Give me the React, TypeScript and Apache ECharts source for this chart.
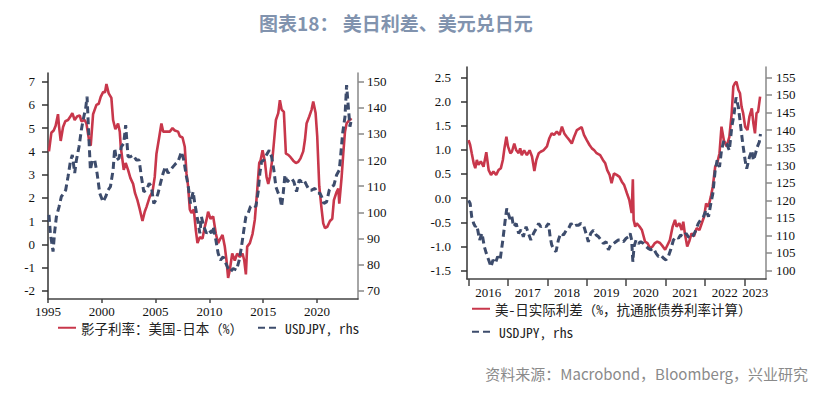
import React, { useEffect, useRef } from 'react';
import * as echarts from 'echarts';

const titleText = '图表18： 美日利差、美元兑日元';
const sourceText = '资料来源：Macrobond，Bloomberg，兴业研究';

const leftRedName = '影子利率：美国-日本（%）';
const blueName = 'USDJPY, rhs';
const rightRedName = '美-日实际利差（%，抗通胀债券利率计算）';

// [decimal year, value]
const shadowRateDiff: [number, number][] = [
  [1995.09, 4.0], [1995.31, 4.8], [1995.53, 4.9], [1995.71, 5.1], [1995.93, 5.6], [1996.02, 5.1],
  [1996.18, 4.45], [1996.4, 5.05], [1996.61, 5.3], [1996.86, 5.35], [1997.08, 5.5], [1997.26, 5.65],
  [1997.48, 5.35], [1997.7, 5.5], [1997.95, 5.55], [1998.1, 5.3], [1998.41, 5.35], [1998.57, 5.2],
  [1998.81, 4.5], [1998.97, 4.25], [1999.19, 5.6], [1999.5, 6.0], [1999.71, 6.05], [1999.9, 6.35],
  [2000.12, 6.55], [2000.3, 6.55], [2000.43, 6.9], [2000.64, 6.5], [2000.89, 6.3], [2001.05, 5.35],
  [2001.26, 4.95], [2001.51, 5.2], [2001.67, 4.85], [2001.76, 4.2], [2002.04, 3.2], [2002.22, 3.5],
  [2002.44, 3.2], [2002.66, 2.85], [2002.91, 2.6], [2003.09, 2.2], [2003.31, 1.9], [2003.53, 1.5],
  [2003.78, 1.0], [2003.99, 1.4], [2004.15, 1.6], [2004.46, 2.05], [2004.71, 2.25], [2004.92, 2.9],
  [2005.08, 3.9], [2005.33, 4.6], [2005.54, 5.2], [2005.7, 4.85], [2006.01, 4.85], [2006.32, 4.85],
  [2006.57, 5.0], [2006.78, 4.9], [2007.09, 4.85], [2007.25, 4.65], [2007.5, 4.6], [2007.71, 4.2],
  [2007.87, 3.05], [2008.02, 2.5], [2008.18, 1.5], [2008.33, 1.35], [2008.55, 1.5], [2008.74, 0.6],
  [2008.89, 0.05], [2009.11, 0.3], [2009.36, 0.25], [2009.57, 0.75], [2009.73, 1.05], [2009.88, 1.4],
  [2010.1, 1.1], [2010.35, 1.2], [2010.6, 0.45], [2010.81, 0.05], [2010.97, 0.2], [2011.22, 0.4],
  [2011.43, -0.1], [2011.59, -0.7], [2011.74, -1.45], [2011.9, -1.1], [2012.12, -0.4], [2012.36, -0.7],
  [2012.58, -0.4], [2012.83, -0.55], [2013.08, -0.4], [2013.24, -0.7], [2013.39, -1.3], [2013.51, -0.1],
  [2013.76, 0.05], [2014.01, 0.45], [2014.22, 1.05], [2014.44, 2.3], [2014.63, 3.5], [2014.75, 3.6],
  [2014.94, 4.05], [2015.16, 3.55], [2015.31, 2.9], [2015.47, 2.6], [2015.62, 2.9], [2015.87, 3.75],
  [2015.99, 4.35], [2016.18, 5.35], [2016.4, 5.65], [2016.55, 6.2], [2016.71, 5.8], [2016.92, 5.7],
  [2017.11, 3.9], [2017.33, 3.85], [2017.54, 3.75], [2017.79, 3.6], [2018.04, 3.5], [2018.26, 3.55],
  [2018.47, 3.7], [2018.72, 4.0], [2018.88, 4.5], [2019.03, 5.2], [2019.28, 5.5], [2019.5, 5.8],
  [2019.65, 6.15], [2019.87, 5.65], [2020.02, 4.65], [2020.21, 2.5], [2020.43, 1.5], [2020.58, 0.9],
  [2020.74, 0.7], [2020.95, 0.75], [2021.2, 1.0], [2021.42, 1.1], [2021.57, 1.9], [2021.82, 2.25],
  [2021.98, 2.4], [2022.07, 1.75], [2022.29, 2.9], [2022.44, 3.9], [2022.6, 4.85], [2022.75, 5.2],
  [2022.91, 5.3], [2023.06, 5.4], [2023.22, 5.35],
];

const usdjpyLong: [number, number][] = [
  [1995.09, 99], [1995.22, 92], [1995.47, 85], [1995.62, 92.6], [1995.78, 98.3], [1996.02, 102],
  [1996.24, 106], [1996.46, 107.3], [1996.64, 108.5], [1996.86, 113.6], [1997.08, 119.4], [1997.26, 122],
  [1997.48, 115], [1997.64, 120], [1997.88, 125], [1998.1, 131.5], [1998.26, 135.3], [1998.5, 139.8],
  [1998.63, 144.3], [1998.81, 127.7], [1998.94, 116.2], [1999.12, 120], [1999.34, 120], [1999.56, 115],
  [1999.81, 107.3], [2000.12, 104], [2000.36, 106], [2000.58, 108.5], [2000.8, 109.8], [2001.05, 116.2],
  [2001.2, 124.5], [2001.36, 120], [2001.6, 120.7], [2001.82, 125.1], [2002.04, 126.4], [2002.22, 133.4],
  [2002.44, 121.3], [2002.66, 121.3], [2002.91, 121.9], [2003.22, 120], [2003.47, 120], [2003.68, 113.6],
  [2003.9, 107.9], [2004.15, 108.5], [2004.4, 111.1], [2004.61, 109.8], [2004.83, 103.4], [2005.02, 104.7],
  [2005.23, 107.3], [2005.45, 111.1], [2005.7, 115], [2005.91, 117.5], [2006.16, 115], [2006.38, 116.2],
  [2006.63, 117.5], [2006.88, 118.7], [2007.09, 119.4], [2007.4, 123.2], [2007.62, 120], [2007.87, 113.6],
  [2008.02, 110.4], [2008.24, 103.4], [2008.49, 107.9], [2008.64, 103.4], [2008.86, 98.3], [2009.11, 92],
  [2009.26, 98.3], [2009.48, 94.5], [2009.73, 92], [2009.98, 93.2], [2010.19, 92], [2010.35, 94.5],
  [2010.6, 89.4], [2010.81, 84.3], [2011.03, 81.7], [2011.28, 83], [2011.53, 80.5], [2011.74, 78.5],
  [2011.96, 77.3], [2012.21, 78.5], [2012.52, 77.9], [2012.77, 81.7], [2012.98, 86.8], [2013.2, 93.2],
  [2013.39, 98.3], [2013.6, 99.6], [2013.82, 102.2], [2014.07, 102.8], [2014.32, 102.2], [2014.53, 107.9],
  [2014.69, 115], [2014.85, 119.4], [2015.06, 120], [2015.31, 122], [2015.56, 123.8], [2015.78, 121.3],
  [2015.99, 116.2], [2016.18, 109.8], [2016.4, 107.3], [2016.55, 106], [2016.71, 102.2], [2016.86, 107.3],
  [2017.02, 114.3], [2017.23, 111.7], [2017.42, 112.4], [2017.64, 113], [2017.85, 111.7], [2018.1, 107.9],
  [2018.35, 112.4], [2018.57, 111.7], [2018.78, 112.4], [2019.03, 110.4], [2019.28, 108.5], [2019.5, 108.5],
  [2019.81, 109.2], [2020.02, 107.3], [2020.27, 107.3], [2020.43, 106], [2020.64, 103.4], [2020.89, 104],
  [2021.14, 108.5], [2021.36, 109.8], [2021.57, 110.4], [2021.82, 114.3], [2022.07, 116.2], [2022.19, 121.3],
  [2022.38, 130.2], [2022.6, 136.6], [2022.75, 148.7], [2022.91, 140.4], [2023.06, 132.8], [2023.22, 136],
];

const realRateDiff: [number, number][] = [
  [2016.0, 1.2], [2016.04, 1.1], [2016.08, 0.93], [2016.13, 0.72], [2016.17, 0.62], [2016.21, 0.79],
  [2016.25, 0.69], [2016.31, 0.76], [2016.38, 0.65], [2016.45, 0.95], [2016.51, 0.58], [2016.57, 0.48],
  [2016.63, 0.55], [2016.7, 0.48], [2016.76, 0.58], [2016.82, 0.62], [2016.87, 0.79], [2016.91, 1.03],
  [2016.96, 1.27], [2017.0, 1.07], [2017.06, 0.93], [2017.1, 0.96], [2017.16, 1.13], [2017.21, 0.99],
  [2017.27, 0.93], [2017.31, 1.03], [2017.35, 0.89], [2017.41, 0.99], [2017.48, 0.89], [2017.55, 0.99],
  [2017.61, 0.86], [2017.67, 0.56], [2017.72, 0.79], [2017.78, 0.93], [2017.83, 0.96], [2017.9, 0.99],
  [2017.99, 1.07], [2018.05, 1.24], [2018.11, 1.34], [2018.17, 1.31], [2018.24, 1.38], [2018.31, 1.31],
  [2018.37, 1.48], [2018.43, 1.34], [2018.49, 1.27], [2018.56, 1.2], [2018.62, 1.13], [2018.68, 1.27],
  [2018.75, 1.41], [2018.81, 1.44], [2018.87, 1.47], [2018.93, 1.31], [2019.0, 1.2], [2019.07, 1.1],
  [2019.13, 1.03], [2019.19, 0.99], [2019.25, 0.93], [2019.34, 0.89], [2019.41, 0.79], [2019.47, 0.72],
  [2019.52, 0.58], [2019.58, 0.48], [2019.63, 0.31], [2019.69, 0.51], [2019.76, 0.48], [2019.83, 0.44],
  [2019.89, 0.34], [2019.95, 0.27], [2020.02, 0.1], [2020.08, -0.04], [2020.14, -0.31], [2020.17, 0.39],
  [2020.19, -0.45], [2020.23, -0.59], [2020.27, -0.52], [2020.34, -0.59], [2020.4, -0.66], [2020.48, -0.9],
  [2020.54, -0.93], [2020.61, -1.04], [2020.67, -1.0], [2020.73, -0.93], [2020.79, -0.9], [2020.86, -0.93],
  [2020.93, -1.0], [2020.99, -1.07], [2021.05, -0.97], [2021.11, -0.87], [2021.18, -0.59], [2021.24, -0.45],
  [2021.28, -0.59], [2021.35, -0.52], [2021.41, -0.66], [2021.45, -0.49], [2021.49, -0.73], [2021.55, -1.0],
  [2021.6, -0.9], [2021.66, -0.73], [2021.72, -0.79], [2021.79, -0.62], [2021.86, -0.66], [2021.92, -0.52],
  [2021.98, -0.38], [2022.03, -0.11], [2022.09, -0.18], [2022.15, 0.03], [2022.2, 0.24], [2022.26, 0.65],
  [2022.31, 0.72], [2022.37, 0.93], [2022.42, 1.48], [2022.48, 1.2], [2022.55, 1.07], [2022.62, 1.27],
  [2022.68, 1.76], [2022.72, 2.31], [2022.76, 2.38], [2022.8, 2.41], [2022.85, 2.24], [2022.89, 2.17],
  [2022.93, 1.89], [2022.97, 1.76], [2023.02, 1.48], [2023.08, 1.41], [2023.13, 1.69], [2023.19, 1.86],
  [2023.23, 1.55], [2023.27, 1.34], [2023.31, 1.76], [2023.35, 1.79], [2023.4, 2.1],
];

const usdjpyShort: [number, number][] = [
  [2016.0, 120], [2016.04, 119.1], [2016.08, 115.3], [2016.13, 113.4], [2016.17, 112.5], [2016.21, 112.9],
  [2016.28, 108.7], [2016.34, 110.6], [2016.4, 106.8], [2016.45, 104.9], [2016.51, 103], [2016.57, 101.1],
  [2016.62, 103], [2016.68, 102.1], [2016.74, 104], [2016.8, 103], [2016.87, 108.7], [2016.93, 114.4],
  [2016.97, 117.7], [2017.01, 116.2], [2017.06, 114.4], [2017.1, 115.3], [2017.14, 112.5], [2017.21, 113.4],
  [2017.27, 110.6], [2017.33, 111.6], [2017.39, 109.6], [2017.46, 112.5], [2017.52, 110.6], [2017.58, 108.7],
  [2017.65, 110.6], [2017.72, 112], [2017.78, 113.4], [2017.83, 112.5], [2017.9, 112.9], [2017.97, 112.5],
  [2018.03, 113.4], [2018.07, 109.6], [2018.11, 107.3], [2018.17, 105.9], [2018.22, 105.4], [2018.28, 108.7],
  [2018.34, 110.6], [2018.41, 110.1], [2018.48, 111.5], [2018.54, 112], [2018.6, 113.4], [2018.66, 112.5],
  [2018.73, 112.9], [2018.79, 112.9], [2018.85, 113.4], [2018.92, 112.9], [2018.98, 110.6], [2019.04, 108.2],
  [2019.1, 110.6], [2019.17, 111.5], [2019.24, 110.1], [2019.3, 109.6], [2019.36, 108.7], [2019.42, 107.7],
  [2019.49, 108.2], [2019.55, 105.9], [2019.61, 107.3], [2019.68, 107.7], [2019.74, 108.2], [2019.8, 108.7],
  [2019.86, 108.7], [2019.93, 108.2], [2020.0, 109.2], [2020.06, 109.6], [2020.1, 110.6], [2020.14, 108.7],
  [2020.17, 102.5], [2020.2, 106.8], [2020.25, 108.7], [2020.31, 107.7], [2020.37, 108.2], [2020.44, 107.7],
  [2020.51, 106.8], [2020.56, 106.3], [2020.62, 105.9], [2020.69, 106.3], [2020.76, 104.9], [2020.82, 104],
  [2020.88, 104.4], [2020.95, 103.5], [2021.01, 103], [2021.07, 104], [2021.13, 105.9], [2021.2, 108.7],
  [2021.27, 109.6], [2021.33, 109.2], [2021.38, 110.1], [2021.45, 109.6], [2021.52, 110.6], [2021.58, 109.6],
  [2021.64, 109.2], [2021.71, 110.1], [2021.77, 111.5], [2021.83, 113.4], [2021.89, 114.4], [2021.96, 115.3],
  [2022.03, 117.2], [2022.09, 115.3], [2022.15, 119.1], [2022.2, 121.9], [2022.26, 128.5], [2022.31, 131.4],
  [2022.37, 129.5], [2022.42, 134.2], [2022.48, 137], [2022.55, 136.1], [2022.62, 134.2], [2022.68, 140.8],
  [2022.74, 144.6], [2022.79, 149.3], [2022.85, 146.5], [2022.91, 140.8], [2022.96, 136.1], [2023.02, 131.4],
  [2023.06, 129], [2023.13, 132.3], [2023.19, 134.2], [2023.23, 131.4], [2023.27, 132.8], [2023.33, 135.2],
  [2023.38, 136.6], [2023.41, 138.9],
];

const leftYTicks = [-2, -1, 0, 1, 2, 3, 4, 5, 6, 7];
const leftY2Ticks = [70, 80, 90, 100, 110, 120, 130, 140, 150];
const leftXTicks = [1995, 2000, 2005, 2010, 2015, 2020];
const rightYTicks = [-1.5, -1, -0.5, 0, 0.5, 1, 1.5, 2, 2.5];
const rightY2Ticks = [100, 105, 110, 115, 120, 125, 130, 135, 140, 145, 150, 155];
const rightXTicks = [2016, 2017, 2018, 2019, 2020, 2021, 2022, 2023];
const rightXLabels = [2016.5, 2017.5, 2018.5, 2019.5, 2020.5, 2021.5, 2022.5, 2023.28];

const RED = '#c8374b';
const BLUE = '#3d4c6c';
const AXIS_FONT = "'Liberation Serif', 'Times New Roman', serif";
const LEGEND_FONT = "'Noto Sans Mono CJK SC', 'Noto Sans CJK SC', sans-serif";

function yAxis(gridIndex: number, position: string, min: number, max: number, ticks: number[], color: string, margin: number, fmt?: (v: number) => string) {
  return {
    type: 'value', gridIndex, position, min, max,
    splitLine: { show: false },
    axisLine: { show: true, onZero: false, lineStyle: { color, width: 1.5 } },
    axisTick: { show: true, inside: false, length: 6, customValues: ticks, lineStyle: { color, width: 1.5 } },
    axisLabel: {
      show: true, customValues: ticks, margin, color: '#111', fontFamily: AXIS_FONT, fontSize: 13,
      formatter: fmt || ((v: number) => String(v)),
    },
  };
}

function legend(left: number, top: number, name: string, width: number) {
  return {
    left, top, padding: 0, itemWidth: width, itemHeight: 14, itemGap: 5, data: [name],
    itemStyle: { opacity: 0 },
    textStyle: { fontFamily: LEGEND_FONT, fontSize: 13.5, color: '#222' },
  };
}

export default function App() {
  const ref = useRef<HTMLDivElement>(null);
  useEffect(() => {
    if (!ref.current) return;
    const chart = echarts.init(ref.current, undefined, { renderer: 'svg' });
    const option: any = {
      animation: false,
      backgroundColor: '#ffffff',
      grid: [
        { left: 48, top: 73, width: 310, height: 226 },
        { left: 467, top: 67, width: 299, height: 212 },
      ],
      xAxis: [
        {
          type: 'value', gridIndex: 0, min: 1995, max: 2023.81,
          splitLine: { show: false },
          axisLine: { show: true, onZero: false, lineStyle: { color: '#444', width: 1.5 } },
          axisTick: { show: true, length: 4, customValues: leftXTicks, lineStyle: { color: '#444', width: 1.5 } },
          axisLabel: { customValues: leftXTicks, margin: 6, color: '#111', fontFamily: AXIS_FONT, fontSize: 13, formatter: (v: number) => String(Math.round(v)) },
        },
        {
          type: 'value', gridIndex: 1, min: 2015.96, max: 2023.55,
          splitLine: { show: false },
          axisLine: { show: true, onZero: false, lineStyle: { color: '#444', width: 1.5 } },
          axisTick: { show: true, length: 7, customValues: rightXTicks, lineStyle: { color: '#444', width: 1.5 } },
          axisLabel: { customValues: rightXLabels, margin: 7, color: '#111', fontFamily: AXIS_FONT, fontSize: 13, formatter: (v: number) => String(Math.floor(v)) },
        },
      ],
      yAxis: [
        yAxis(0, 'left', -2.357, 7.375, leftYTicks, '#333', 13),
        yAxis(0, 'right', 66.83, 153.33, leftY2Ticks, '#888', 9),
        yAxis(1, 'left', -1.675, 2.715, rightYTicks, '#333', 16, (v: number) => v.toFixed(1)),
        yAxis(1, 'right', 97.59, 157.96, rightY2Ticks, '#888', 10),
      ],
      legend: [
        legend(57, 321, leftRedName, 18),
        legend(257, 321, blueName, 22),
        legend(471, 302, rightRedName, 18),
        legend(471, 325, blueName, 22),
      ],
      series: [
        { name: leftRedName, type: 'line', xAxisIndex: 0, yAxisIndex: 0, data: shadowRateDiff, symbol: 'none', lineStyle: { color: RED, width: 2.6 }, itemStyle: { color: RED } },
        { name: blueName, type: 'line', xAxisIndex: 0, yAxisIndex: 1, data: usdjpyLong, symbol: 'none', lineStyle: { color: BLUE, width: 3, type: [7, 4] }, itemStyle: { color: BLUE } },
        { name: rightRedName, type: 'line', xAxisIndex: 1, yAxisIndex: 2, data: realRateDiff, symbol: 'none', lineStyle: { color: RED, width: 2.6 }, itemStyle: { color: RED } },
        { name: blueName, type: 'line', xAxisIndex: 1, yAxisIndex: 3, data: usdjpyShort, symbol: 'none', lineStyle: { color: BLUE, width: 3, type: [7, 4] }, itemStyle: { color: BLUE } },
      ],
      graphic: [
        { type: 'text', left: 259, top: 13, style: { text: titleText, fill: '#8193ae', font: "bold 19px 'Noto Sans CJK SC', sans-serif" } },
        { type: 'text', right: 17, top: 366, style: { text: sourceText, fill: '#8a8a8a', font: "15px 'Noto Sans CJK SC', sans-serif" } },
      ],
    };
    chart.setOption(option);
    return () => chart.dispose();
  }, []);
  return <div ref={ref} style={{ position: 'absolute', left: 0, top: 0, width: 825, height: 399 }} />;
}
